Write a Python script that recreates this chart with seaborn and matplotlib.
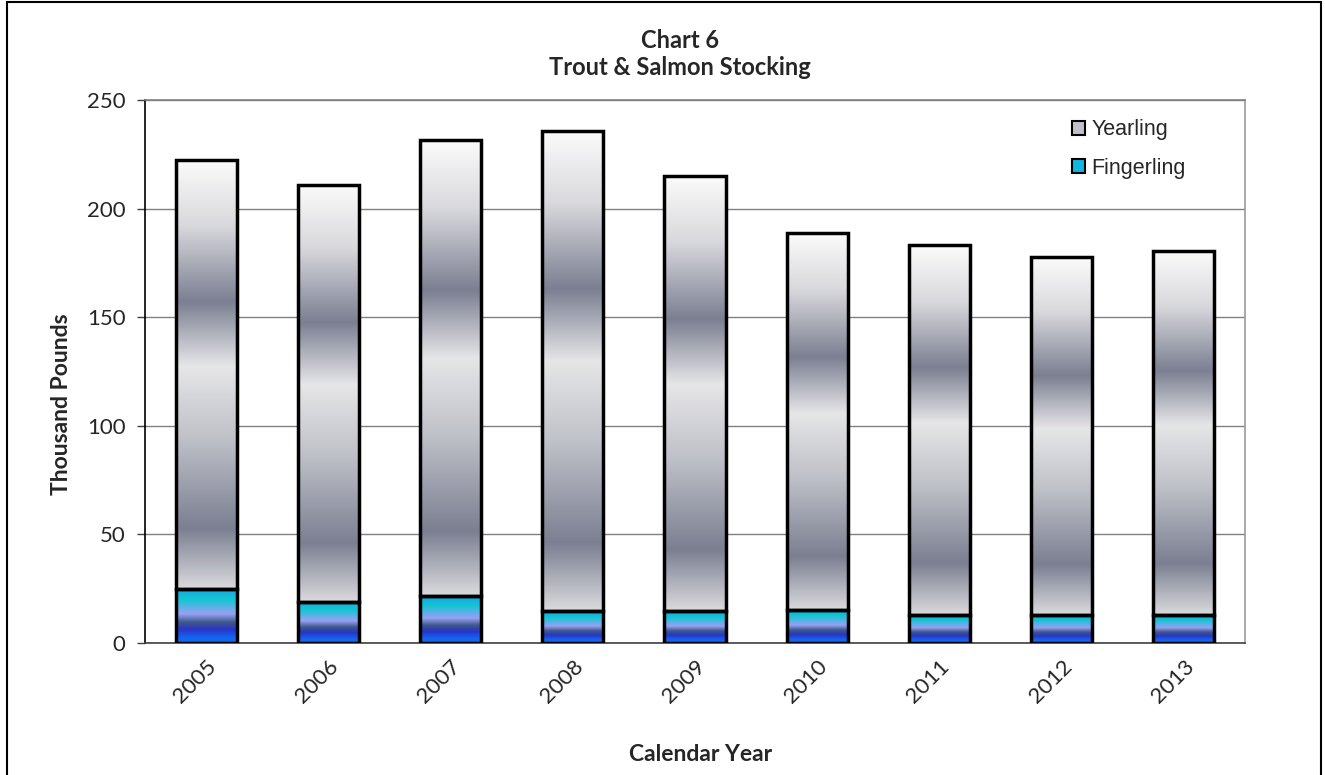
import numpy as np
import pandas as pd
import matplotlib
matplotlib.use("Agg")
import matplotlib.pyplot as plt
from matplotlib.colors import LinearSegmentedColormap
from matplotlib.patches import Patch, Rectangle
import seaborn as sns

years = ["2005", "2006", "2007", "2008", "2009", "2010", "2011", "2012", "2013"]
fingerling = [24.9, 18.9, 21.6, 14.7, 14.7, 15.2, 12.9, 12.9, 12.9]
yearling = [197.5, 192.0, 210.0, 221.0, 200.3, 173.6, 170.3, 164.8, 167.6]

data = pd.DataFrame({"year": years, "Fingerling": fingerling, "Yearling": yearling})
data["total"] = data["Fingerling"] + data["Yearling"]

# gradients top -> bottom
gray_cmap = LinearSegmentedColormap.from_list("yr", [
    (0.0, "#fbfbfb"), (0.15, "#d9d9dd"), (0.33, "#7b7f91"), (0.48, "#e6e6e8"),
    (0.65, "#bfc1c8"), (0.86, "#7b7f91"), (1.0, "#dadadd")])
blue_cmap = LinearSegmentedColormap.from_list("fg", [
    (0.0, "#1aa4e6"), (0.2, "#10c6d2"), (0.47, "#9aa0f6"), (0.62, "#3d5a8a"),
    (0.75, "#2a34c4"), (0.9, "#1464f2"), (1.0, "#1170e0")])

sns.set_style("white")
plt.rcParams["font.family"] = ["Lato", "DejaVu Sans"]

fig = plt.figure(figsize=(13.25, 7.75), dpi=100)
ax = fig.add_axes([145 / 1325, 132 / 775, 1100 / 1325, 543 / 775])

sns.barplot(data=data, x="year", y="total", color="#cccccc", width=0.5, ax=ax)
sns.barplot(data=data, x="year", y="Fingerling", color="#10c6d2", width=0.5, ax=ax)

grad = np.linspace(0, 1, 256).reshape(-1, 1)
n = len(years)
for i, p in enumerate(ax.patches):
    cmap = gray_cmap if i < n else blue_cmap
    x0, y0 = p.get_x(), p.get_y()
    w, h = p.get_width(), p.get_height()
    if i < n:
        # yearling segment sits above the fingerling segment
        y0 = fingerling[i]
        h = h - fingerling[i]
    ax.imshow(grad, cmap=cmap, aspect="auto", extent=[x0, x0 + w, y0, y0 + h],
              origin="upper", zorder=2, interpolation="bilinear")
    ax.add_patch(Rectangle((x0, y0), w, h, fill=False, edgecolor="black",
                           linewidth=2.5, zorder=3))
    p.set_visible(False)

ax.set_xlim(-0.5, n - 0.5)
ax.set_ylim(0, 250)
ax.set_yticks(range(0, 251, 50))
ax.yaxis.grid(True, color="#808080", linewidth=1)
ax.set_axisbelow(True)
ax.tick_params(axis="y", left=True, length=6, width=1, color="#404040", labelsize=16, pad=8)
ax.tick_params(axis="x", bottom=False, labelsize=16, pad=6)
plt.setp(ax.get_xticklabels(), rotation=45, ha="right", rotation_mode="anchor")

ax.spines["left"].set_color("black")
ax.spines["bottom"].set_color("#404040")
ax.spines["right"].set_color("#999999")
ax.spines["top"].set_color("#808080")
for s in ax.spines.values():
    s.set_linewidth(1.2)

ax.set_xlabel("Calendar Year", fontsize=16.5, fontweight="bold")
ax.set_ylabel("Thousand Pounds", fontsize=16.5, fontweight="bold")
ax.xaxis.set_label_coords(0.505, -0.186)
ax.yaxis.set_label_coords(-0.066, 0.44)
fig.text(0.513, 0.930, "Chart 6\nTrout & Salmon Stocking", ha="center", va="center",
         fontsize=17, fontweight="bold", linespacing=1.2)

handles = [Patch(facecolor="#c0c2c8", edgecolor="black", linewidth=1.5, label="Yearling"),
           Patch(facecolor="#10b8e0", edgecolor="black", linewidth=1.5, label="Fingerling")]
ax.legend(handles=handles, loc="upper left", bbox_to_anchor=(0.825, 1.0), frameon=False,
          handlelength=0.6, handleheight=0.6, handletextpad=0.3, labelspacing=0.8,
          prop={"family": "Liberation Sans", "size": 15.5})

fig.add_artist(Rectangle((7 / 1325, -0.01), 1314 / 1325, 1.0 - 2 / 775 + 0.01,
                         transform=fig.transFigure, fill=False, edgecolor="black",
                         linewidth=1.5))

fig.savefig("out.png", dpi=100)
